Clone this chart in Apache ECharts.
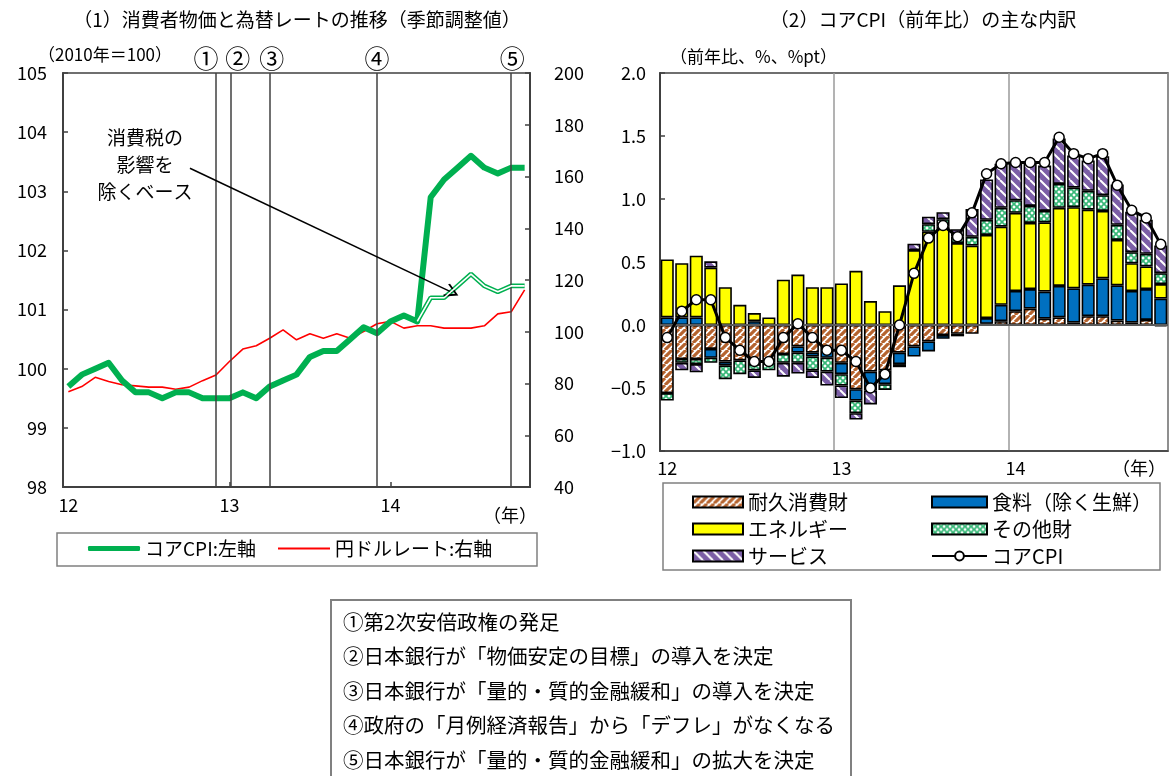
<!DOCTYPE html>
<html>
<head>
<meta charset="utf-8">
<script src="https://cdn.jsdelivr.net/npm/echarts@6/dist/echarts.min.js"></script>
<style>
  html, body { margin: 0; padding: 0; background: #fff; }
  #chart { width: 1171px; height: 776px; }
</style>
</head>
<body>
<div id="chart"></div>
<script>
const FONT = '"Noto Sans CJK JP", "Noto Sans", sans-serif';

// Months shown on both panels (Jan 2012 – Nov 2014)
const months = [
  '2012-01','2012-02','2012-03','2012-04','2012-05','2012-06','2012-07','2012-08','2012-09','2012-10','2012-11','2012-12',
  '2013-01','2013-02','2013-03','2013-04','2013-05','2013-06','2013-07','2013-08','2013-09','2013-10','2013-11','2013-12',
  '2014-01','2014-02','2014-03','2014-04','2014-05','2014-06','2014-07','2014-08','2014-09','2014-10','2014-11'
];
const yearLabels = ['12', '13', '14'];

// (1) Core CPI level (2010 = 100, s.a.) and yen/dollar rate
const coreCpiLevel = [
  99.7, 99.9, 100.0, 100.1, 99.8, 99.6, 99.6, 99.5, 99.6, 99.6, 99.5, 99.5,
  99.5, 99.6, 99.5, 99.7, 99.8, 99.9, 100.2, 100.3, 100.3, 100.5, 100.7, 100.6,
  100.8, 100.9, 100.8, 102.9, 103.2, 103.4, 103.6, 103.4, 103.3, 103.4, 103.4
];
// Excluding the consumption tax hike, from Mar 2014
const exTaxFrom = '2014-03';
const coreCpiExTax = [100.8, 101.2, 101.2, 101.4, 101.6, 101.4, 101.3, 101.4, 101.4];
const usdJpy = [
  76.8, 78.8, 82.4, 80.8, 79.5, 79.1, 78.6, 78.6, 77.8, 78.6, 81.1, 83.3,
  88.5, 93.3, 94.6, 97.5, 100.7, 96.9, 99.2, 97.5, 99.2, 97.5, 100.1, 103.1,
  104.0, 101.4, 102.3, 102.3, 101.4, 101.4, 101.4, 102.3, 106.9, 107.7, 116.2
];
// Policy events: marker, position on the month axis, label nudge
const eventMarks = ['①', '②', '③', '④', '⑤'];
const eventAt = [11, 12.1, 15, 23, 33];
const eventLabelShift = [-10, 7, 2, 0, 1];
const eventNotes = [
  '①第2次安倍政権の発足',
  '②日本銀行が「物価安定の目標」の導入を決定',
  '③日本銀行が「量的・質的金融緩和」の導入を決定',
  '④政府の「月例経済報告」から「デフレ」がなくなる',
  '⑤日本銀行が「量的・質的金融緩和」の拡大を決定'
];

// (2) Core CPI y/y and contributions (% pt)
const durables = [
  -0.54, -0.27, -0.27, -0.19, -0.29, -0.28, -0.31, -0.30, -0.23, -0.17, -0.22, -0.19,
  -0.30, -0.51, -0.37, -0.36, -0.22, -0.17, -0.13, -0.08, -0.07, -0.07, 0.01, 0.03,
  0.11, 0.13, 0.05, 0.06, 0.02, 0.07, 0.07, 0.035, 0.02, 0.04, -0.01
];
const food = [
  0.06, 0.06, 0.06, -0.07, -0.03, 0, 0.03, 0, 0, -0.05, -0.03, -0.07,
  -0.09, -0.09, -0.15, -0.11, -0.09, -0.08, -0.08, -0.03, -0.02, 0, 0.045, 0.13,
  0.16, 0.155, 0.215, 0.25, 0.27, 0.25, 0.30, 0.28, 0.25, 0.245, 0.21
];
const energy = [
  0.46, 0.43, 0.49, 0.455, 0.30, 0.16, 0.065, 0.06, 0.36, 0.40, 0.30, 0.30,
  0.33, 0.43, 0.19, 0.11, 0.315, 0.595, 0.74, 0.78, 0.65, 0.63, 0.66, 0.62,
  0.62, 0.525, 0.55, 0.62, 0.645, 0.595, 0.535, 0.36, 0.22, 0.18, 0.115
];
const otherGoods = [
  -0.06, -0.03, -0.04, -0.04, -0.11, -0.11, -0.05, -0.06, -0.07, -0.08, -0.11, -0.11,
  -0.09, -0.10, 0, -0.045, -0.025, 0, 0.06, 0.06, 0.055, 0.07, 0.12, 0.15,
  0.10, 0.135, 0.09, 0.19, 0.155, 0.15, 0.125, 0.12, 0.088, 0.10, 0.086
];
const services = [
  0, -0.06, -0.065, 0.05, 0, 0, -0.06, 0, -0.11, -0.085, -0.06, -0.11,
  -0.10, -0.05, -0.11, 0, 0, 0.05, 0.06, 0.055, 0.055, 0.22, 0.32, 0.35,
  0.295, 0.345, 0.36, 0.36, 0.255, 0.24, 0.31, 0.32, 0.32, 0.27, 0.22
];
const coreCpiYoY = [
  -0.10, 0.11, 0.20, 0.20, -0.10, -0.20, -0.29, -0.29, -0.10, 0.01, -0.10, -0.20,
  -0.20, -0.29, -0.50, -0.39, 0.00, 0.41, 0.69, 0.79, 0.70, 0.89, 1.20, 1.28,
  1.29, 1.29, 1.29, 1.49, 1.36, 1.32, 1.36, 1.11, 0.91, 0.85, 0.64
];

// ---------- fill patterns ----------
function stripes(bg, fg, size, lineWidth, rising) {
  const c = document.createElement('canvas');
  c.width = c.height = size;
  const g = c.getContext('2d');
  g.fillStyle = bg; g.fillRect(0, 0, size, size);
  g.strokeStyle = fg; g.lineWidth = lineWidth;
  g.beginPath();
  for (let k = -1; k <= 1; k++) {
    if (rising) { g.moveTo(k * size, size); g.lineTo(k * size + size, 0); }
    else { g.moveTo(k * size, 0); g.lineTo(k * size + size, size); }
  }
  g.stroke();
  return { image: c, repeat: 'repeat' };
}
function lattice(bg, fg, size, lineWidth) {
  const c = document.createElement('canvas');
  c.width = c.height = size;
  const g = c.getContext('2d');
  g.fillStyle = bg; g.fillRect(0, 0, size, size);
  g.strokeStyle = fg; g.lineWidth = lineWidth;
  g.beginPath();
  for (let k = -1; k <= 1; k++) {
    g.moveTo(k * size, size); g.lineTo(k * size + size, 0);
    g.moveTo(k * size, 0); g.lineTo(k * size + size, size);
  }
  g.stroke();
  return { image: c, repeat: 'repeat' };
}
const fillDurables = stripes('#ffffff', '#B5632E', 7, 3.2, true);
const fillServices = stripes('#7B5EA6', '#ffffff', 10, 2.0, false);
const fillOther = lattice('#ffffff', '#38B878', 6, 1.7);

const axisText = { fontSize: 18, color: '#000', fontFamily: FONT };
const darkLine = { color: '#404040', width: 2 };
const xy = arr => arr.map((v, i) => [i, v]);
const exStart = months.indexOf(exTaxFrom);
const noZero = arr => arr.map(v => (v === 0 ? '-' : v));

const barBase = {
  type: 'bar', xAxisIndex: 1, yAxisIndex: 2, stack: 'contrib',
  barCategoryGap: '10%'
};
function barSeries(name, values, color) {
  return Object.assign({}, barBase, {
    name,
    data: noZero(values),
    itemStyle: { color, borderColor: '#000', borderWidth: 1.6 }
  });
}

const textEl = (x, y, text, size, align) => ({
  type: 'text', x, y, silent: true,
  style: { text, fontSize: size, fontFamily: FONT, fill: '#000',
           align: align || 'left', verticalAlign: 'middle' }
});

const option = {
  animation: false,
  backgroundColor: '#fff',
  grid: [
    { left: 63, top: 73, width: 467, height: 414, show: true, borderColor: '#404040', borderWidth: 1.5, backgroundColor: 'transparent' },
    { left: 660, top: 73, width: 508, height: 378, show: true, borderColor: '#404040', borderWidth: 1.5, backgroundColor: 'transparent' }
  ],
  xAxis: [
    {
      type: 'value', gridIndex: 0, min: -0.4, max: 34.4,
      axisLine: { show: true, onZero: false, lineStyle: darkLine },
      axisTick: { show: true, inside: true, length: 5, customValues: [12, 24], lineStyle: { color: '#404040', width: 1.5 } },
      axisLabel: Object.assign({ customValues: [0, 12, 24], margin: 9,
        formatter: v => yearLabels[Math.round(v / 12)] }, axisText),
      splitLine: { show: false }
    },
    {
      type: 'category', gridIndex: 1, data: months, boundaryGap: true,
      axisLine: { show: true, onZero: false, lineStyle: { color: '#404040', width: 1.5 } },
      axisTick: { show: false },
      axisLabel: Object.assign({ interval: i => i % 12 === 0, margin: 8,
        formatter: v => yearLabels[months.indexOf(v) / 12] }, axisText),
      splitLine: { show: true, interval: i => i === 12 || i === 24,
        lineStyle: { color: '#9a9a9a', width: 1.5 } }
    }
  ],
  yAxis: [
    {
      type: 'value', gridIndex: 0, position: 'left', min: 98, max: 105, interval: 1,
      axisLine: { show: true, onZero: false, lineStyle: darkLine },
      axisTick: { show: true, inside: true, length: 5, lineStyle: { color: '#404040', width: 1.5 } },
      axisLabel: Object.assign({ margin: 16 }, axisText),
      splitLine: { show: false }
    },
    {
      type: 'value', gridIndex: 0, position: 'right', min: 40, max: 200, interval: 20,
      axisLine: { show: true, onZero: false, lineStyle: darkLine },
      axisTick: { show: true, inside: true, length: 5, lineStyle: { color: '#404040', width: 1.5 } },
      axisLabel: Object.assign({ margin: 24 }, axisText),
      splitLine: { show: false }
    },
    {
      type: 'value', gridIndex: 1, min: -1, max: 2, interval: 0.5,
      axisLine: { show: true, onZero: false, lineStyle: darkLine },
      axisTick: { show: true, inside: true, length: 5, lineStyle: { color: '#404040', width: 1.5 } },
      axisLabel: Object.assign({ margin: 14,
        formatter: v => (v < 0 ? '−' : '') + Math.abs(v).toFixed(1) }, axisText),
      splitLine: { show: false }
    }
  ],
  legend: [
    {
      data: [{ name: 'コアCPI:左軸', icon: 'roundRect' }],
      left: 88, top: 539, padding: 0, itemWidth: 52, itemHeight: 5,
      itemStyle: { borderWidth: 0 }, selectedMode: false,
      textStyle: { fontSize: 19, fontFamily: FONT, color: '#000' }
    },
    {
      data: [{ name: '円ドルレート:右軸', icon: 'rect' }],
      left: 278, top: 539, padding: 0, itemWidth: 52, itemHeight: 2,
      itemStyle: { borderWidth: 0 }, selectedMode: false,
      textStyle: { fontSize: 19, fontFamily: FONT, color: '#000' }
    },
    {
      data: [{ name: '耐久消費財', icon: 'rect' }, { name: 'エネルギー', icon: 'rect' }, { name: 'サービス', icon: 'rect' }],
      orient: 'vertical', left: 692, top: 492, padding: 0, itemWidth: 50, itemHeight: 11, itemGap: 7,
      selectedMode: false, textStyle: { fontSize: 20, fontFamily: FONT, color: '#000' }
    },
    {
      data: [{ name: '食料（除く生鮮）', icon: 'rect' }, { name: 'その他財', icon: 'rect' }, 'コアCPI'],
      orient: 'vertical', left: 931, top: 492, padding: 0, itemWidth: 55, itemHeight: 11, itemGap: 7,
      selectedMode: false, textStyle: { fontSize: 20, fontFamily: FONT, color: '#000' }
    }
  ],
  series: [
    // ---- panel (1) ----
    {
      name: '円ドルレート:右軸', type: 'line', xAxisIndex: 0, yAxisIndex: 1,
      data: xy(usdJpy), showSymbol: false, symbol: 'none', z: 3,
      color: '#FF0000', lineStyle: { width: 1.6, color: '#FF0000' },
      markLine: {
        silent: true, symbol: ['none', 'none'],
        lineStyle: { color: '#404040', width: 1.5, type: 'solid' },
        label: { show: true, position: 'end', distance: 2,
          formatter: p => eventMarks[p.dataIndex], fontSize: 25, color: '#000', fontFamily: FONT },
        data: eventAt.map((m, i) => ({ xAxis: m, label: { offset: [eventLabelShift[i], 0] } }))
      }
    },
    {
      name: 'コアCPI:左軸', type: 'line', xAxisIndex: 0, yAxisIndex: 0,
      data: xy(coreCpiLevel), showSymbol: false, symbol: 'none', z: 4,
      color: '#00B050', lineStyle: { width: 6, color: '#00B050', join: 'round' },
      markLine: {
        silent: true,
        symbol: ['none', 'path://M10,0 L20,17 L18,19 L10,5 L2,19 L0,17 Z'],
        symbolSize: [14, 14],
        lineStyle: { color: '#000', width: 1.5, type: 'solid' },
        label: { show: false },
        data: [[{ coord: [9.06, 103.39] }, { coord: [28.59, 101.29] }]]
      }
    },
    {
      name: 'コアCPI（消費税除く）', type: 'line', xAxisIndex: 0, yAxisIndex: 0,
      data: coreCpiExTax.map((v, i) => [exStart + i, v]), showSymbol: false, symbol: 'none', z: 4,
      color: '#00B050', lineStyle: { width: 4.6, color: '#00B050' }
    },
    {
      name: 'コアCPI（消費税除く）内側', type: 'line', xAxisIndex: 0, yAxisIndex: 0,
      data: coreCpiExTax.map((v, i) => [exStart + i, v]), showSymbol: false, symbol: 'none', z: 5,
      color: '#ffffff', lineStyle: { width: 1.6, color: '#ffffff' }
    },
    // ---- panel (2) ----
    barSeries('耐久消費財', durables, fillDurables),
    barSeries('食料（除く生鮮）', food, '#0070C0'),
    barSeries('エネルギー', energy, '#FFFF00'),
    barSeries('その他財', otherGoods, fillOther),
    Object.assign(barSeries('サービス', services, fillServices), {
      markLine: {
        silent: true, symbol: ['none', 'none'],
        lineStyle: { color: '#5a5a5a', width: 2, type: 'solid' },
        label: { show: false },
        data: [{ yAxis: 0 }]
      }
    }),
    {
      name: 'コアCPI', type: 'line', xAxisIndex: 1, yAxisIndex: 2,
      data: coreCpiYoY, symbol: 'circle', symbolSize: 10, showAllSymbol: true, z: 10,
      itemStyle: { color: '#ffffff', borderColor: '#000', borderWidth: 1.5 },
      lineStyle: { color: '#000', width: 3 }
    }
  ],
  graphic: [
    textEl(297, 20, '（1）消費者物価と為替レートの推移（季節調整値）', 19, 'center'),
    textEl(923, 20, '（2）コアCPI（前年比）の主な内訳', 19, 'center'),
    textEl(38, 55, '（2010年＝100）', 17),
    textEl(670, 57, '（前年比、%、%pt）', 17),
    textEl(537, 515, '（年）', 18, 'right'),
    textEl(1166, 468, '（年）', 18, 'right'),
    textEl(145, 138, '消費税の', 19, 'center'),
    textEl(145, 165, '影響を', 19, 'center'),
    textEl(145, 192, '除くベース', 19, 'center'),
    { type: 'rect', silent: true, shape: { x: 57, y: 533, width: 480, height: 33 },
      style: { fill: 'none', stroke: '#808080', lineWidth: 1.5 } },
    { type: 'rect', silent: true, shape: { x: 663, y: 483, width: 497, height: 87 },
      style: { fill: 'none', stroke: '#808080', lineWidth: 1.5 } },
    { type: 'rect', silent: true, shape: { x: 331, y: 600, width: 520, height: 200 },
      style: { fill: 'none', stroke: '#808080', lineWidth: 2 } }
  ].concat(eventNotes.map((t, i) => textEl(343, 622 + i * 34.5, t, 20.5)))
};

const chart = echarts.init(document.getElementById('chart'), null, { renderer: 'canvas' });
chart.setOption(option);
</script>
</body>
</html>
